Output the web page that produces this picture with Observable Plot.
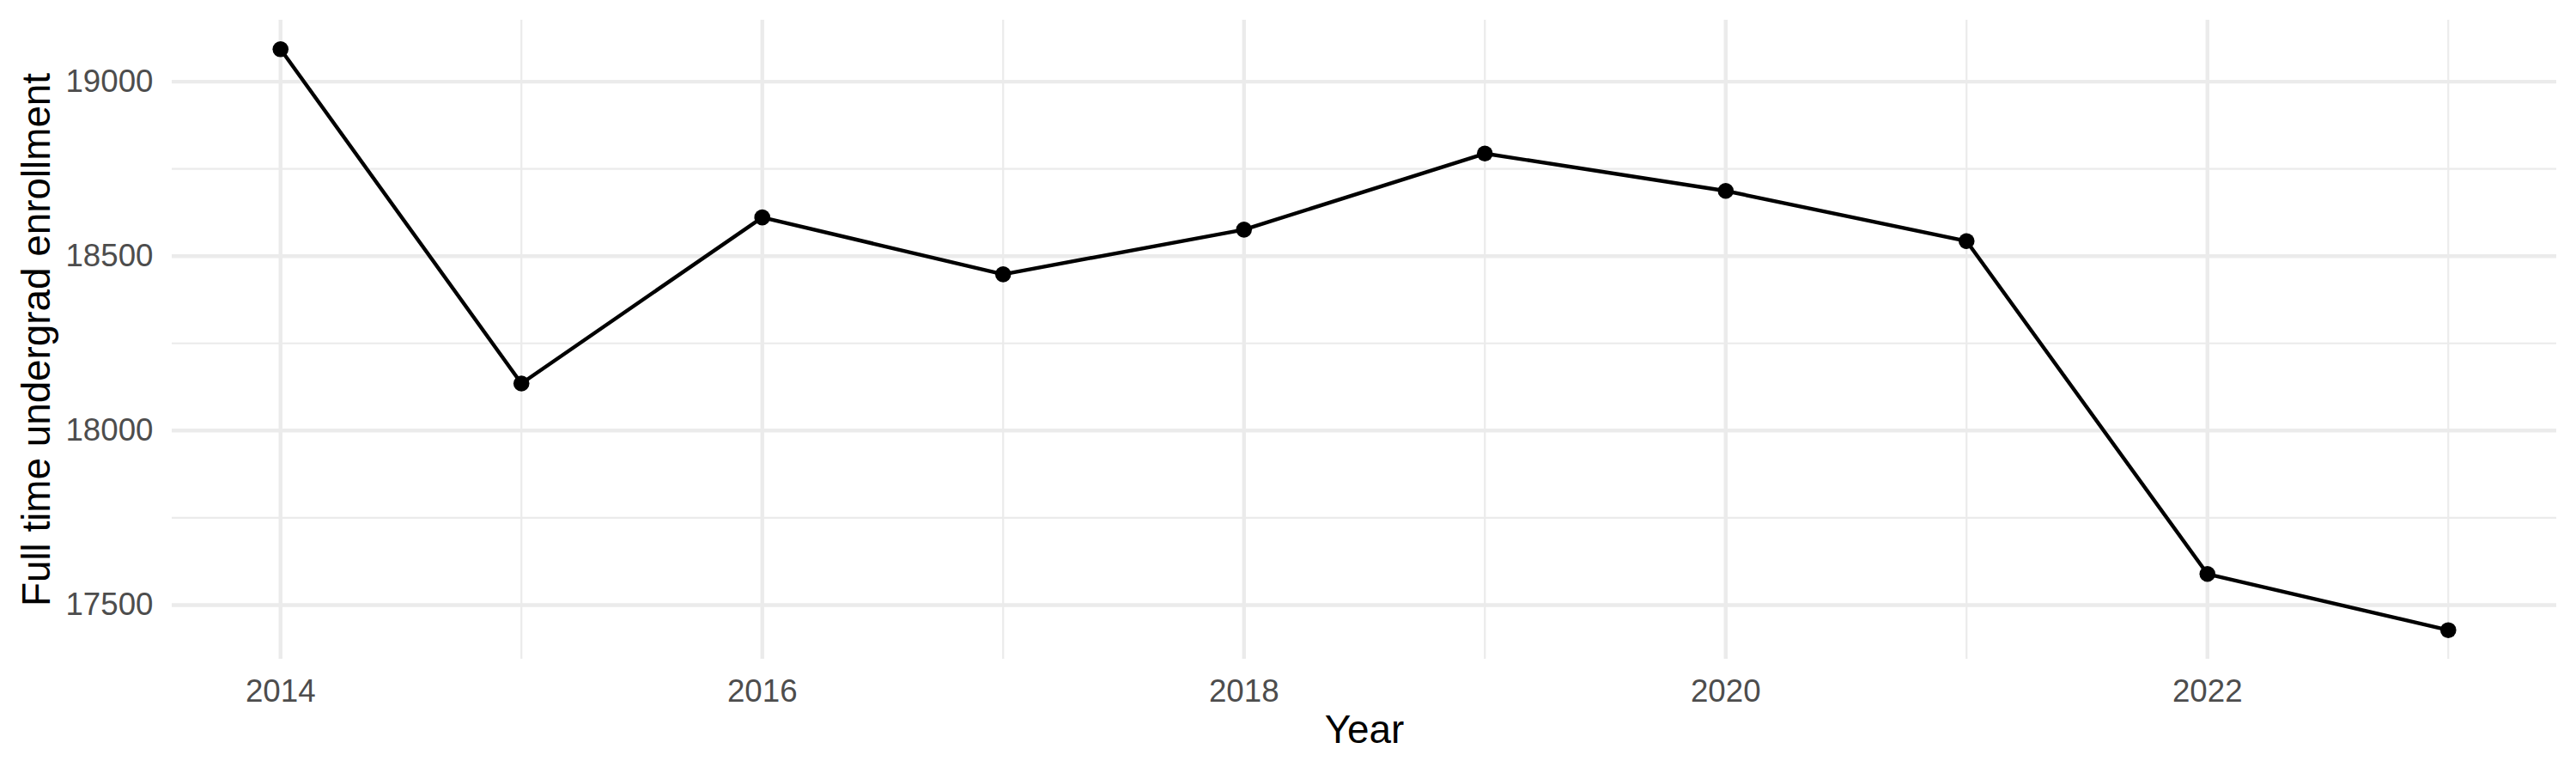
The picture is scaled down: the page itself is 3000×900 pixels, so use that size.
<!DOCTYPE html>
<html>
<head>
<meta charset="utf-8">
<script src="https://cdn.jsdelivr.net/npm/d3@7"></script>
<script src="https://cdn.jsdelivr.net/npm/@observablehq/plot@0.6"></script>
<style>
  html, body { margin: 0; padding: 0; background: #ffffff; }
  #chart svg { display: block; }
</style>
</head>
<body>
<div id="chart"></div>
<script>
// ---- data ----
const years = [2014, 2015, 2016, 2017, 2018, 2019, 2020, 2021, 2022, 2023];
const enrollment = [19093, 18135, 18611, 18448, 18576, 18794, 18687, 18543, 17589, 17428];
const xMajorTicks = [2014, 2016, 2018, 2020, 2022];
const xMinorTicks = [2015, 2017, 2019, 2021, 2023];
const yMajorTicks = [17500, 18000, 18500, 19000];
const yMinorTicks = [17750, 18250, 18750];
const xTitle = "Year";
const yTitle = "Full time undergrad enrollment";

const data = years.map((year, i) => ({year, value: enrollment[i]}));

// ggplot-style 5% expansion of the continuous scales
const expand = ([a, b]) => { const p = (b - a) * 0.05; return [a - p, b + p]; };
const xDomain = expand(d3.extent(years));
const yDomain = expand(d3.extent(enrollment));

const grid = "#EBEBEB";
const font = "'Liberation Sans', Arial, Helvetica, sans-serif";

const chart = Plot.plot({
  width: 3000,
  height: 900,
  marginLeft: 200,
  marginRight: 23,
  marginTop: 23,
  marginBottom: 133,
  style: {background: "#ffffff", fontFamily: font},
  x: {domain: xDomain},
  y: {domain: yDomain},
  marks: [
    Plot.ruleY(yMinorTicks, {stroke: grid, strokeWidth: 2.2}),
    Plot.ruleX(xMinorTicks, {stroke: grid, strokeWidth: 2.2}),
    Plot.ruleY(yMajorTicks, {stroke: grid, strokeWidth: 4.4}),
    Plot.ruleX(xMajorTicks, {stroke: grid, strokeWidth: 4.4}),
    Plot.line(data, {x: "year", y: "value", stroke: "#000000", strokeWidth: 4.4}),
    Plot.dot(data, {x: "year", y: "value", r: 9.3, fill: "#000000", stroke: "none"}),
    Plot.axisX(xMajorTicks, {
      tickSize: 0, tickPadding: 23, fontSize: 36.7, fill: "#4D4D4D",
      tickFormat: d3.format("d"), label: null
    }),
    Plot.axisY(yMajorTicks, {
      tickSize: 0, tickPadding: 22, fontSize: 36.7, fill: "#4D4D4D",
      tickFormat: d3.format("d"), label: null
    }),
    Plot.text([xTitle], {
      frameAnchor: "bottom", dy: 83, lineAnchor: "middle", textAnchor: "middle",
      fontSize: 45.8, fill: "#000000", text: d => d
    }),
    Plot.text([yTitle], {
      frameAnchor: "left", dx: -143, rotate: -90, lineAnchor: "bottom", textAnchor: "middle",
      fontSize: 45.8, fill: "#000000", text: d => d
    })
  ]
});
document.getElementById("chart").appendChild(chart);
</script>
</body>
</html>
